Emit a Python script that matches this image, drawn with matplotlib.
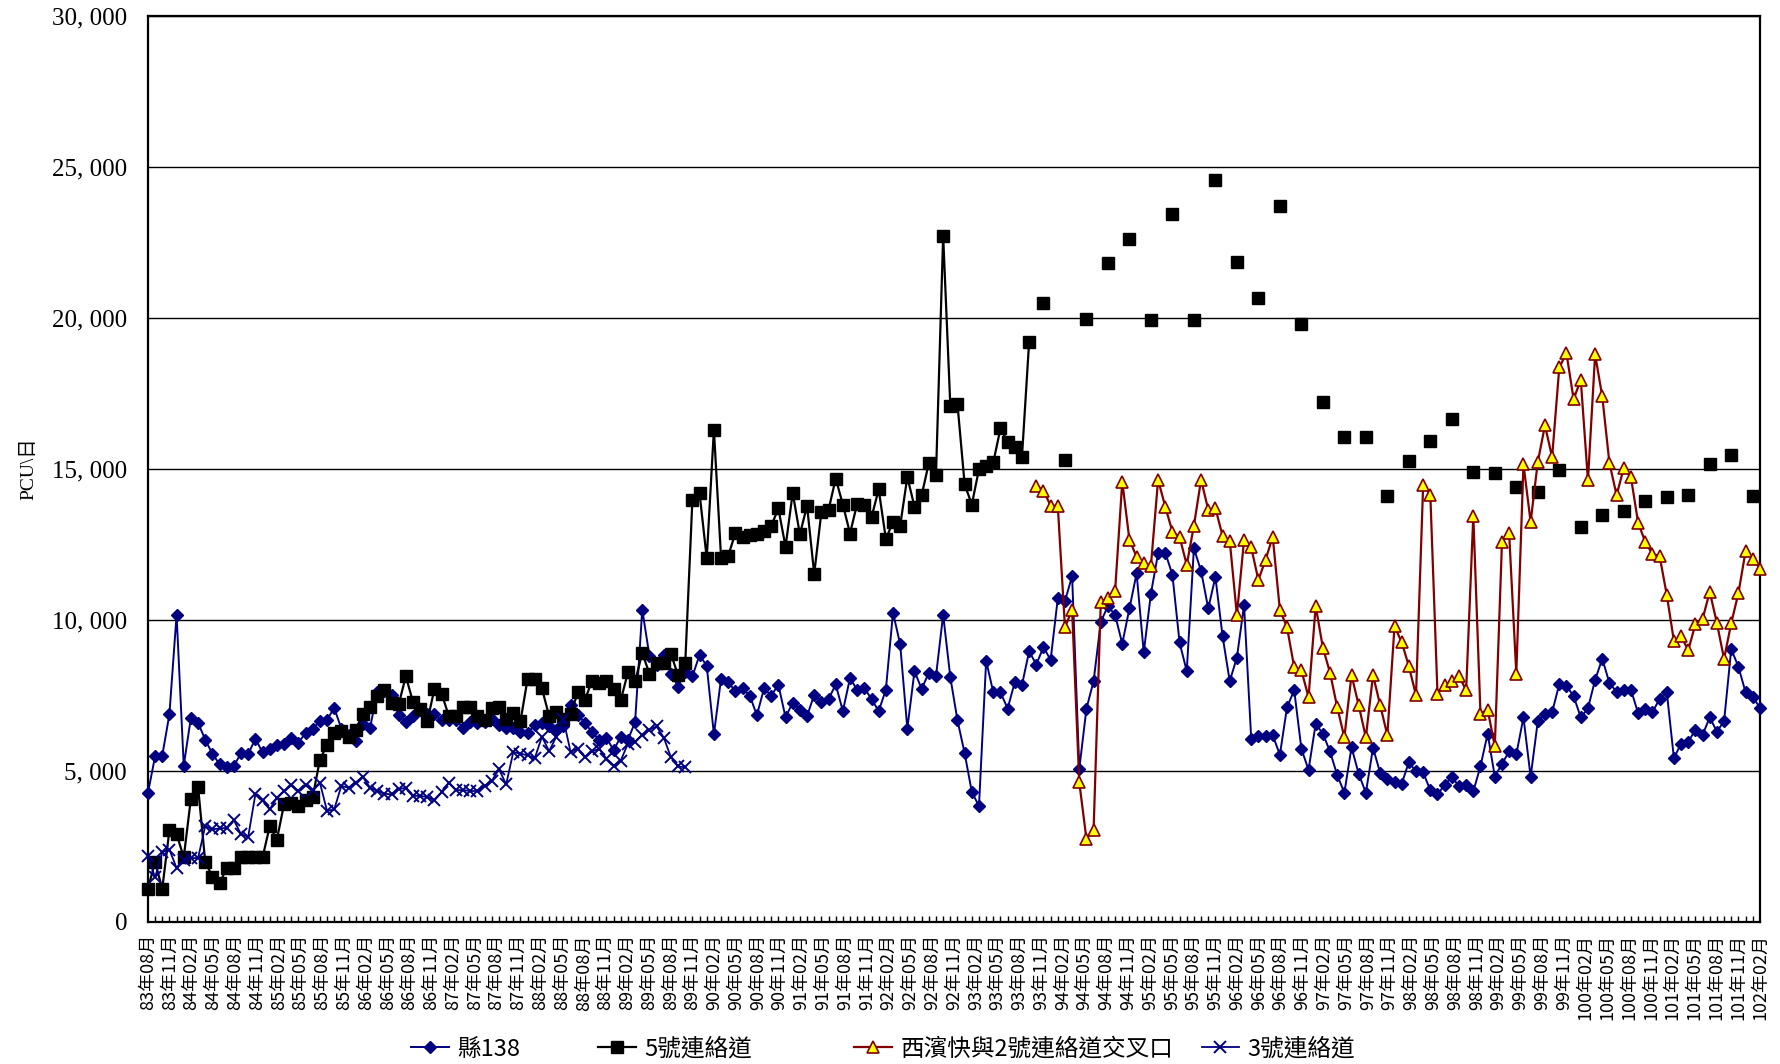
"""
plot.py - 交通量 月別 추이 그래프 (縣138 / 5號 / 西濱快 / 3號)
"""

import numpy as np
import matplotlib
matplotlib.use("Agg")  # 화면 없이 저장
import matplotlib.pyplot as plt
from matplotlib.ticker import FuncFormatter

# -- 데이터 ---------------------------------------------------------------------
START_YEAR, START_MONTH, N_MONTHS = 83, 8, 226   # 83年08月부터 226개 시점
N_LABELS = 75                                     # 83年08月 ~ 102年02月 (3개월 간격)

# 縣138 (전체 기간)
county138 = [
    4260, 5480, 5500, 6870, 10170, 5170, 6760, 6590, 6030, 5560,
    5220, 5110, 5170, 5580, 5560, 6060, 5610, 5720, 5860, 5900,
    6090, 5920, 6260, 6390, 6640,
    6690, 7080, 6400, 6170, 6000, 6560, 6410, 7610, 7640, 7500,
    6860, 6630, 6800, 7020, 6870, 6870, 6670, 6690, 6690, 6410,
    6630, 6580, 6600,
    6700, 6530, 6410, 6410, 6300, 6240, 6530, 6580, 6470, 6360,
    6470, 7170, 6860, 6580, 6280, 6020, 6100, 5680, 6130, 6020, 6620,
    10340,
    8810, 8500, 8840, 8220, 7790, 8280, 8130, 8840, 8470, 6210, 8050,
    7940, 7630, 7730, 7490, 6840, 7730, 7490, 7850, 6770, 7260,
    7030, 6810, 7520, 7280,
    7370, 7860, 6980, 8070, 7680, 7750, 7370, 6980, 7680, 10240,
    9190, 6400, 8300, 7710, 8250, 8140, 10170, 8100, 6670, 5580,
    4300, 3830, 8640, 7600,
    7600, 7060, 7940, 7840, 8960, 8520, 9100, 8670, 10710, 10620, 11450, 5060,
    7060, 7970, 9930, 10460, 10160, 9210, 10380, 11540, 8920, 10870,
    12200, 12230, 11490, 9250, 8300, 12370, 11620, 10380, 11420, 9460,
    7970, 8750, 10490, 6060, 6140, 6140, 6180, 5530, 7110, 7670,
    5730, 5030, 6560, 6230, 5640, 4860, 4270, 5780, 4900, 4270,
    5760, 4930, 4730, 4620, 4570, 5280, 4980, 4950, 4350, 4230,
    4520, 4810, 4480, 4520, 4320, 5150, 6230, 4810, 5230, 5640,
    5540, 6770, 4800, 6640, 6880, 6940, 7870, 7820, 7470, 6770,
    7070, 8010, 8710, 7910, 7610, 7690, 7690, 6910, 7040, 6940,
    7380, 7620, 5420, 5900, 5960, 6360, 6190, 6770, 6300, 6640,
    9030, 8450, 7600, 7450, 7090,
]

# 5號連絡道 - 월별 구간
link5_monthly = [
    1090, 1980, 1090, 3030, 2910, 2130, 4080, 4470, 1980, 1490,
    1270, 1780, 1780, 2130, 2130, 2130, 2130, 3160, 2720, 3890,
    3930, 3840, 4040, 4130, 5360,
    5860, 6240, 6310, 6110, 6360, 6890, 7110, 7470, 7670, 7240,
    7200, 8130, 7280, 7060, 6640, 7720, 7560, 6810, 6810, 7110,
    7110, 6830, 6690,
    7090, 7120, 6720, 6920, 6640, 8050, 8050, 7730, 6810, 6940,
    6700, 6870, 7600, 7350, 7990, 7900, 7990, 7710, 7340, 8260, 7960,
    8900, 8220, 8560, 8580, 8880, 8160, 8560, 13980, 14190, 12040, 16300,
    12060, 12120, 12880, 12740, 12820, 12850, 12940, 13110, 13690, 12420,
    14210, 12830, 13780, 11520,
    13560, 13640, 14680, 13820, 12860, 13850, 13790, 13400, 14320, 12690,
    13230, 13120, 14730, 13750, 14130, 15190, 14790, 22720, 17090, 17140,
    14490, 13820, 14990, 15100, 15220, 16340, 15900, 15720, 15400, 19210,
]
# 5號連絡道 - 분기별 조사 (3개월 간격, 선 없이 점만)
LINK5_Q_START = 125
link5_quarterly = [
    20490, 15310, 19970, 21830, 22630, 19920, 23440, 19920, 24570, 21860,
    20670, 23710, 19790, 17230, 16050, 16050, 14110, 15270, 15940, 16650,
    14890, 14860, 14400, 14220, 14960, 13080, 13460, 13590, 13950, 14060,
    14150, 15170, 15450, 14100,
]

# 西濱快與2號連絡道交叉口
XIBIN_START = 124
xibin = [
    14440, 14280, 13780, 13780, 9760, 10330, 4620, 2740, 3040, 10580,
    10740, 10960, 14580, 12650, 12090, 11870, 11790, 14640, 13750, 12920,
    12750, 11820, 13120, 14640, 13650, 13700, 12780, 12620, 10160, 12650,
    12400, 11320, 11990, 12750, 10330, 9750, 8430, 8330, 7440, 10460,
    9080, 8250, 7110, 6110, 8170, 7170, 6110, 8170, 7170, 6180,
    9790, 9260, 8470, 7500, 14480, 14140, 7550, 7850, 7970, 8130,
    7670, 13450, 6890, 7030, 5810, 12570, 12870, 8220, 15160, 13240,
    15230, 16440, 15390, 18360, 18830, 17310, 17950, 14620, 18790, 17400,
    15190, 14130, 15030, 14730, 13220, 12580, 12180, 12120, 10830, 9300,
    9460, 8990, 9860, 10030, 10930, 9890, 8710, 9890, 10880, 12270,
    12030, 11700,
]

# 3號連絡道
link3 = [
    2170, 1470, 2310, 2390, 1780, 2060, 2110, 2110, 3170, 3060,
    3090, 3110, 3370, 2890, 2820, 4220, 4020, 3720, 4110, 4330,
    4520, 4330, 4520, 4360, 4610,
    3670, 3720, 4500, 4440, 4610, 4800, 4440, 4330, 4240, 4220,
    4390, 4440, 4170, 4170, 4130, 4020, 4300, 4610, 4360, 4360,
    4330, 4330, 4500,
    4660, 5060, 4550, 5620, 5570, 5510, 5420, 6130, 5650, 6130,
    6700, 5620, 5730, 5450, 5640, 5730, 5400, 5170, 5340, 5900,
    5960, 6190,
    6360, 6470, 6100, 5450, 5150, 5110,
]

series_labels = ["縣138", "5號連絡道", "西濱快與2號連絡道交叉口", "3號連絡道"]


# -- 보조 함수 -------------------------------------------------------------------
def month_labels(y0, m0, n):
    out = []
    for k in range(n):
        y = y0 + (m0 - 1 + k) // 12
        m = (m0 - 1 + k) % 12 + 1
        out.append(f"{y}年{m:02d}月")
    return out


def padded(values, start, n, step=1):
    arr = np.full(n, np.nan)
    arr[start:start + step * len(values):step] = values
    return arr


def fmt_thousands(v, pos):
    if v == 0:
        return "0"
    return f"{int(v):,}".replace(",", ", ")


# -- 그래프 ----------------------------------------------------------------------
if __name__ == "__main__":
    plt.rcParams['font.family'] = ['Noto Sans CJK TC', 'DejaVu Sans']
    plt.rcParams['axes.unicode_minus'] = False
    serif_cjk = ["Liberation Serif", "Noto Sans CJK TC", "DejaVu Sans"]

    x = np.arange(N_MONTHS)
    tick_text = month_labels(START_YEAR, START_MONTH, 3 * N_LABELS)[::3]
    tick_pos = np.linspace(0, N_MONTHS - 1, N_LABELS)

    y_138 = padded(county138, 0, N_MONTHS)
    y_5 = padded(link5_monthly, 0, N_MONTHS)
    y_5q = padded(link5_quarterly, LINK5_Q_START, N_MONTHS, 3)
    y_5 = np.where(np.isnan(y_5), y_5q, y_5)
    y_xb = padded(xibin, XIBIN_START, N_MONTHS)
    y_3 = padded(link3, 0, N_MONTHS)

    fig = plt.figure(figsize=(17.8, 10.64), dpi=100)
    ax = fig.add_axes([0.0831, 0.1337, 0.9056, 0.8512])

    navy = "#000080"
    h1, = ax.plot(x, y_138, color=navy, lw=1.4, marker="D", ms=6.5,
                  label=series_labels[0], clip_on=False, zorder=3)
    h2, = ax.plot(x, y_5, color="black", lw=1.6, marker="s", ms=8,
                  label=series_labels[1], clip_on=False, zorder=4)
    h3, = ax.plot(x, y_xb, color="#800000", lw=1.6, marker="^", ms=9,
                  mfc="#FFFF00", mec="#800000", mew=1.2,
                  label=series_labels[2], clip_on=False, zorder=5)
    h4, = ax.plot(x, y_3, color=navy, lw=1.3, marker="x", ms=9, mew=1.4,
                  label=series_labels[3], clip_on=False, zorder=6)

    ax.set_xlim(0, N_MONTHS - 1)
    ax.set_ylim(0, 30000)
    ax.set_yticks(range(0, 30001, 5000))
    ax.yaxis.set_major_formatter(FuncFormatter(fmt_thousands))
    ax.yaxis.grid(True, color="black", lw=1.0)
    ax.set_axisbelow(True)

    ax.set_xticks(tick_pos)
    ax.set_xticklabels(tick_text, rotation=90, fontsize=13)
    ax.set_xticks(x, minor=True)
    ax.tick_params(axis="x", which="major", length=0, pad=9)
    ax.tick_params(axis="x", which="minor", direction="in", length=4, width=1)
    ax.tick_params(axis="y", length=0, pad=15)
    for lab in ax.get_yticklabels():
        lab.set_fontfamily(serif_cjk)
        lab.set_fontsize(18)

    for s in ax.spines.values():
        s.set_linewidth(1.6)

    fig.text(0.016, 0.56, "PCU\\日", rotation=90, ha="center", va="center",
             fontsize=14, family=serif_cjk)

    # 범례: 원본처럼 항목별 위치를 따로 지정
    legend_x = [0.231, 0.336, 0.480, 0.675]
    for h, lx in zip([h1, h2, h3, h4], legend_x):
        fig.legend(handles=[h], loc="center left", bbox_to_anchor=(lx, 0.014),
                   frameon=False, fontsize=17, handlelength=1.6,
                   handletextpad=0.35, borderpad=0, borderaxespad=0)

    plt.savefig("out.png", dpi=100)
    plt.close()
